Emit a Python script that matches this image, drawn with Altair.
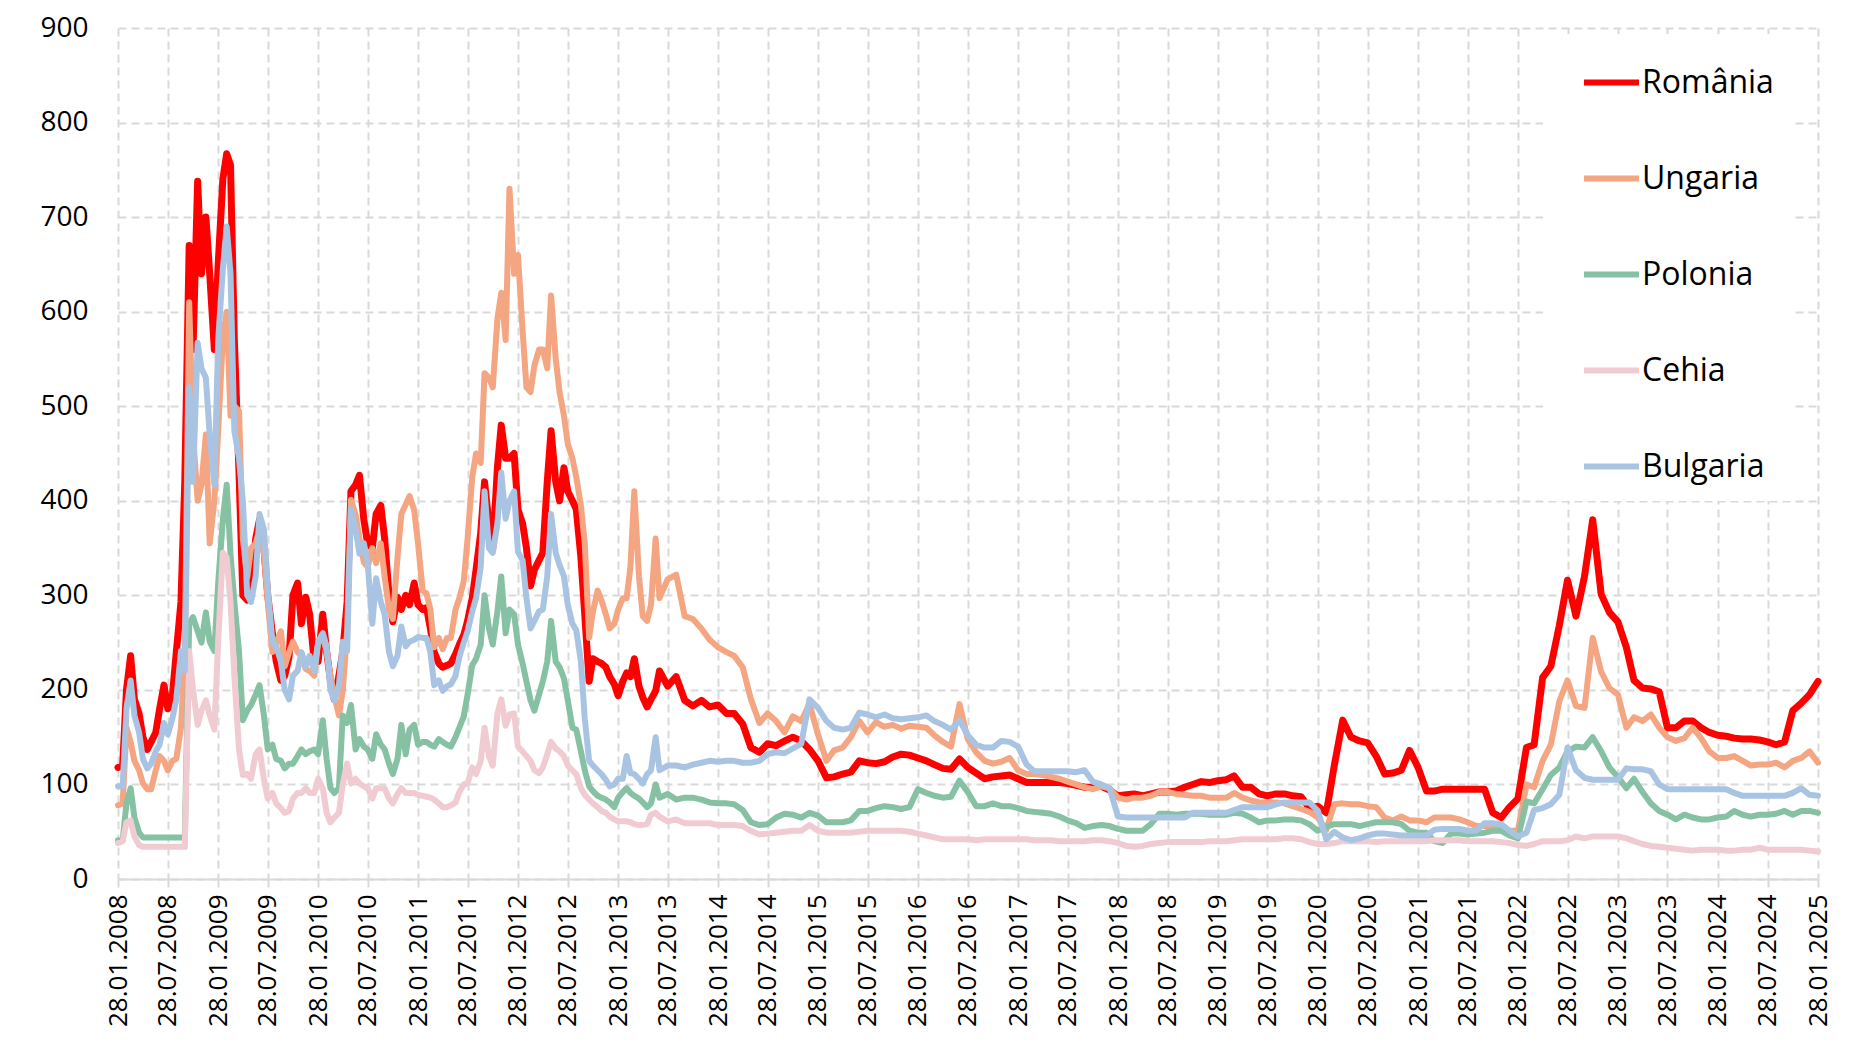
import altair as alt
import pandas as pd

countries = ["România", "Ungaria", "Polonia", "Cehia", "Bulgaria"]
colors = ["#FF0000", "#F4A582", "#86C1A4", "#F0CBD1", "#A9C4E3"]
widths = [7, 6, 6, 6, 6]

# ---- values: semi-monthly 28.01.2008 .. 28.06.2013 (131 points) ----
ro_a = [118, 120, 200, 236, 190, 175, 150, 137, 145, 155, 180, 205, 180, 195, 240, 293, 420, 670, 560, 738, 640, 700, 640, 560,
        650, 740, 767, 755, 570, 430, 300, 295, 300, 360, 380, 350, 300, 260, 230, 210, 215, 235, 300, 313, 270, 298, 280, 230,
        230, 280, 241, 210, 190, 215, 240, 293, 410, 417, 427, 380, 355, 350, 386, 395, 360, 300, 272, 298, 285, 300, 290, 313,
        290, 285, 287, 265, 240, 228, 224, 226, 228, 238, 248, 258, 273, 297, 327, 366, 420, 376, 350, 435, 480, 445, 445, 450,
        391, 376, 350, 310, 327, 337, 345, 420, 474, 420, 400, 435, 410, 400, 391, 340, 280, 209, 233, 230, 228, 224, 214, 206,
        194, 209, 218, 214, 233, 204, 192, 182, 190, 199, 220]
hu_a = [78, 80, 160, 145, 125, 115, 101, 95, 95, 115, 130, 125, 115, 125, 127, 160, 236, 610, 470, 400, 417, 470, 355, 400,
        474, 572, 600, 490, 500, 495, 360, 319, 350, 355, 370, 345, 293, 240, 250, 262, 225, 240, 251, 240, 236, 222, 220, 215,
        250, 256, 241, 215, 194, 173, 199, 262, 401, 385, 360, 335, 330, 350, 334, 355, 320, 285, 275, 340, 386, 396, 405, 390,
        355, 305, 302, 285, 245, 255, 243, 255, 255, 285, 297, 315, 360, 425, 450, 440, 535, 530, 520, 592, 620, 570, 730, 640,
        660, 580, 520, 515, 543, 560, 560, 540, 617, 550, 515, 490, 460, 445, 425, 395, 355, 255, 283, 305, 295, 280, 265, 270,
        285, 297, 297, 330, 410, 320, 278, 273, 290, 360, 297]
pl_a = [41, 41, 80, 96, 65, 49, 44, 44, 44, 44, 44, 44, 44, 44, 44, 44, 44, 270, 277, 262, 250, 282, 251, 241,
        313, 380, 417, 344, 293, 241, 168, 178, 184, 195, 205, 173, 137, 142, 127, 125, 117, 122, 122, 130, 137, 132, 135, 137,
        132, 168, 127, 96, 91, 96, 173, 165, 184, 137, 148, 140, 137, 127, 153, 142, 137, 122, 111, 127, 163, 132, 158, 163,
        142, 145, 145, 142, 140, 148, 145, 142, 140, 150, 160, 172, 195, 226, 233, 248, 300, 265, 248, 283, 320, 260, 285, 280,
        248, 228, 209, 189, 178, 195, 209, 230, 273, 230, 224, 212, 189, 160, 158, 135, 115, 98, 93, 88, 86, 84, 81, 76,
        86, 92, 96, 91, 88, 85, 81, 76, 80, 100, 86]
cz_a = [38, 40, 60, 62, 45, 36, 34, 34, 34, 34, 34, 34, 34, 34, 34, 34, 34, 241, 200, 163, 178, 189, 173, 158,
        252, 345, 340, 293, 215, 137, 110, 111, 106, 132, 137, 106, 85, 91, 80, 75, 70, 72, 85, 91, 91, 96, 91, 91,
        106, 96, 70, 60, 65, 70, 100, 122, 101, 106, 101, 98, 96, 85, 96, 96, 96, 85, 80, 90, 96, 91, 91, 91,
        89, 88, 87, 86, 84, 80, 76, 76, 78, 81, 92, 100, 101, 118, 111, 125, 160, 130, 120, 175, 190, 162, 174, 175,
        140, 135, 130, 125, 115, 112, 118, 132, 145, 138, 135, 130, 120, 115, 111, 96, 89, 84, 80, 76, 72, 70, 66, 63,
        61, 61, 61, 60, 58, 57, 57, 58, 68, 70, 66]
bg_a = [98, 98, 180, 210, 173, 155, 127, 117, 122, 135, 142, 165, 153, 170, 190, 241, 220, 520, 420, 567, 540, 530, 470, 417,
        570, 645, 690, 640, 474, 445, 400, 300, 293, 320, 386, 370, 308, 251, 246, 230, 200, 190, 215, 220, 240, 225, 236, 220,
        251, 260, 246, 200, 189, 205, 251, 241, 391, 370, 344, 355, 334, 270, 318, 293, 280, 240, 225, 236, 267, 246, 251, 253,
        256, 255, 255, 240, 205, 210, 199, 204, 206, 215, 235, 250, 262, 283, 297, 330, 410, 350, 345, 376, 430, 381, 400, 410,
        346, 337, 297, 265, 273, 283, 285, 320, 386, 345, 332, 320, 290, 270, 263, 230, 170, 125, 120, 115, 111, 105, 98, 100,
        106, 106, 130, 112, 111, 106, 101, 111, 115, 150, 115]

# ---- values: monthly 28.07.2013 .. 28.01.2025 (139 points) ----
ro_b = [204, 214, 189, 183, 189, 182, 184, 175,
        175, 164, 139, 134, 143, 141, 146, 150, 146, 137, 125, 107, 108, 111, 113, 125, 123, 122, 124, 129, 132, 131, 128, 125,
        121, 117, 116, 127, 118, 112, 106, 108, 109, 110, 106, 102, 102, 102, 102, 102, 101, 99, 97, 97,
        98, 94, 88, 89, 90, 88, 90, 92, 92, 93, 97, 100, 103, 102, 104, 105, 109, 97, 97, 90, 88, 90, 90, 88, 87, 75,
        77, 70, 120, 168, 150, 146, 144, 130, 111, 112, 115, 136, 118, 93, 93, 95, 95, 95,
        95, 95, 95, 70, 65, 76, 85, 139, 142, 213, 225, 268, 316, 278, 320, 380, 301, 282, 272, 245, 210, 202, 201, 198,
        160, 160, 167, 167, 160, 155, 152, 151, 149, 148, 148, 147, 145, 142, 145, 178, 186, 195, 209]
hu_b = [317, 322, 278, 275, 265, 253, 245, 240,
        236, 224, 190, 165, 175, 167, 155, 172, 167, 185, 153, 125, 136, 139, 150, 167, 155, 166, 161, 163, 159, 162, 161, 160,
        152, 145, 140, 185, 148, 134, 125, 122, 124, 128, 115, 111, 111, 110, 108, 106, 103, 100, 97, 95,
        98, 96, 86, 84, 86, 86, 88, 92, 92, 90, 89, 88, 88, 86, 86, 86, 91, 86, 83, 81, 81, 81, 80, 77, 74, 71,
        65, 52, 79, 80, 79, 79, 77, 76, 65, 62, 66, 62, 62, 60, 65, 65, 65, 63,
        60, 56, 56, 56, 54, 51, 51, 100, 97, 125, 142, 188, 210, 183, 181, 255, 219, 202, 195, 160, 171, 167, 174, 160,
        150, 146, 149, 160, 149, 135, 128, 128, 130, 125, 120, 121, 121, 123, 118, 125, 128, 135, 123]
pl_b = [90, 84, 86, 86, 84, 81, 80, 80,
        79, 73, 60, 57, 58, 65, 69, 68, 65, 70, 67, 60, 60, 60, 62, 72, 72, 75, 77, 76, 74, 76, 95, 91,
        88, 86, 87, 104, 92, 77, 77, 80, 77, 77, 75, 72, 71, 70, 69, 66, 62, 59, 54, 56,
        57, 56, 53, 51, 51, 51, 58, 69, 69, 68, 69, 69, 69, 68, 68, 68, 70, 69, 65, 60, 62, 62, 63, 63, 62, 58,
        51, 55, 58, 58, 58, 56, 58, 60, 60, 60, 58, 51, 49, 49, 40, 38, 48, 48,
        47, 48, 49, 51, 51, 46, 43, 82, 80, 95, 110, 118, 135, 140, 139, 150, 135, 118, 108, 96, 106, 92, 80, 72,
        68, 63, 68, 65, 63, 63, 65, 66, 72, 68, 66, 68, 68, 69, 72, 68, 72, 72, 70]
cz_b = [61, 63, 59, 59, 59, 59, 57, 57,
        57, 56, 51, 47, 48, 49, 50, 51, 51, 57, 51, 49, 49, 49, 49, 50, 51, 51, 51, 51, 51, 50, 48, 46,
        44, 42, 42, 42, 42, 41, 42, 42, 42, 42, 42, 42, 41, 41, 41, 40, 40, 40, 40, 41,
        41, 40, 38, 35, 34, 35, 37, 38, 39, 39, 39, 39, 39, 40, 40, 40, 41, 42, 42, 42, 42, 42, 43, 43, 42, 39,
        37, 37, 38, 40, 40, 40, 40, 39, 40, 40, 40, 40, 40, 40, 41, 41, 41, 41,
        40, 40, 40, 40, 39, 38, 36, 35, 37, 40, 40, 40, 41, 45, 43, 45, 45, 45, 45, 43, 40, 37, 35, 34,
        33, 32, 31, 30, 31, 31, 31, 30, 30, 31, 31, 33, 31, 31, 31, 31, 31, 30, 29]
bg_b = [120, 120, 118, 121, 123, 125, 124, 125,
        125, 123, 123, 125, 132, 134, 133, 138, 143, 190, 181, 167, 160, 158, 160, 176, 174, 171, 174, 170, 169, 170, 171, 173,
        167, 163, 158, 168, 152, 142, 139, 139, 146, 145, 140, 121, 114, 114, 114, 114, 114, 113, 115, 103,
        100, 96, 66, 65, 65, 65, 65, 65, 65, 65, 65, 70, 70, 70, 70, 70, 73, 76, 76, 76, 76, 79, 81, 81, 81, 81,
        72, 42, 50, 44, 41, 43, 46, 48, 48, 47, 46, 46, 46, 46, 52, 53, 53, 53,
        51, 51, 59, 59, 58, 51, 45, 49, 73, 75, 79, 89, 139, 115, 107, 105, 105, 105, 105, 117, 116, 116, 114, 100,
        95, 95, 95, 95, 95, 95, 95, 95, 91, 88, 88, 88, 88, 88, 88, 91, 96, 89, 88]

# ---- date grid ----
dates = ["2008-01-28"]
y, m = 2008, 1
for _ in range(65):
    m += 1
    if m > 12:
        m, y = 1, y + 1
    dates.append(f"{y}-{m:02d}-14")
    dates.append(f"{y}-{m:02d}-28")
for _ in range(139):
    m += 1
    if m > 12:
        m, y = 1, y + 1
    dates.append(f"{y}-{m:02d}-28")

series = {
    "România": ro_a + ro_b,
    "Ungaria": hu_a + hu_b,
    "Polonia": pl_a + pl_b,
    "Cehia": cz_a + cz_b,
    "Bulgaria": bg_a + bg_b,
}

rows = []
for c in countries:
    vals = series[c]
    n = min(len(vals), len(dates))
    for d, v in zip(dates[:n], vals[:n]):
        rows.append({"date": d, "value": v, "country": c})
df = pd.DataFrame(rows)


def ms(s):
    return int(pd.Timestamp(s, tz="UTC").value // 10**6)


tick_ms = []
for yy in range(2008, 2026):
    tick_ms.append(ms(f"{yy}-01-28"))
    if yy < 2025:
        tick_ms.append(ms(f"{yy}-07-28"))

grid_color = "#D9D9D9"
font = "Open Sans"

x_enc = alt.X(
    "date:T",
    scale=alt.Scale(type="utc", domain=[ms("2008-01-28"), ms("2025-01-28")], nice=False),
    axis=alt.Axis(
        values=tick_ms,
        labelExpr="utcFormat(datum.value, '%d.%m.%Y')",
        labelAngle=270,
        labelFontSize=26,
        labelFont=font,
        labelColor="#000000",
        labelPadding=7,
        grid=True,
        gridDash=[8, 5],
        gridColor=grid_color,
        gridWidth=2,
        domainColor=grid_color,
        domainWidth=2,
        tickColor=grid_color,
        tickWidth=2,
        tickSize=8,
        labelOverlap=False,
    ),
    title=None,
)
y_enc = alt.Y(
    "value:Q",
    scale=alt.Scale(domain=[0, 900], nice=False),
    axis=alt.Axis(
        values=list(range(0, 1000, 100)),
        labelFontSize=28,
        labelFont=font,
        labelColor="#000000",
        labelPadding=30,
        minExtent=105,
        ticks=False,
        domain=False,
        grid=True,
        gridDash=[8, 5],
        gridColor=grid_color,
        gridWidth=2,
    ),
    title=None,
)
color_enc = alt.Color(
    "country:N",
    scale=alt.Scale(domain=countries, range=colors),
    legend=alt.Legend(
        title=None,
        orient="none",
        legendX=1425,
        legendY=6,
        direction="vertical",
        fillColor="white",
        padding=18,
        symbolType="stroke",
        symbolSize=3025,
        symbolStrokeWidth=6,
        symbolOffset=20,
        labelOffset=0,
        labelFont=font,
        labelFontSize=32,
        labelColor="#000000",
        labelLimit=300,
        rowPadding=49,
    ),
)

layers = []
for c, w in zip(countries, widths):
    layers.append(
        alt.Chart(df)
        .transform_filter(alt.datum.country == c)
        .mark_line(strokeWidth=w, strokeJoin="round", strokeCap="round")
        .encode(x=x_enc, y=y_enc, color=color_enc)
    )

chart = (
    alt.layer(*layers)
    .properties(width=1700, height=851, padding={"left": 5, "top": 6, "right": 5, "bottom": 5}, background="white")
    .configure_view(stroke=None)
)

chart.save("out.html", embed_options={"renderer": "svg", "actions": False})
